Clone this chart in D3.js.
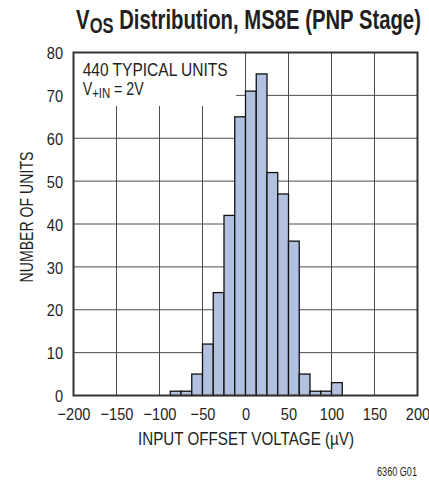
<!DOCTYPE html>
<html><head><meta charset="utf-8">
<script src="https://cdn.jsdelivr.net/npm/d3@7"></script>
<style>
body{margin:0;background:#fff;}
text{font-family:"Liberation Sans",Arial,sans-serif;fill:#231f20;}
</style></head>
<body><svg id="c" width="429" height="480"></svg>
<script>
// Data
const binStarts = [-87.5,-75,-62.5,-50,-37.5,-25,-12.5,0,12.5,25,37.5,50,62.5,75,87.5,100];
const binWidth = 12.5;
const counts = [1,1,5,12,24,42,65,71,75,52,47,36,5,1,1,3];
const xTicks = [-200,-150,-100,-50,0,50,100,150,200];
const yTicks = [0,10,20,30,40,50,60,70,80];

const svg = d3.select("#c");
const m = {l:73.5, r:417.5, t:52.5, b:395.5};
const x = d3.scaleLinear().domain([-200,200]).range([m.l, m.r]);
const y = d3.scaleLinear().domain([0,80]).range([m.b, m.t]);
const SX = 0.86;

// grid
const g = svg.append("g");
g.selectAll("line.v").data(xTicks).join("line")
  .attr("x1",d=>x(d)).attr("x2",d=>x(d)).attr("y1",m.t).attr("y2",m.b)
  .attr("stroke","#4d4d4d").attr("stroke-width",1);
g.selectAll("line.h").data(yTicks).join("line")
  .attr("x1",m.l).attr("x2",m.r).attr("y1",d=>y(d)).attr("y2",d=>y(d))
  .attr("stroke","#4d4d4d").attr("stroke-width",1);

// annotation backdrop
svg.append("rect").attr("x",m.l).attr("y",m.t).attr("width",236-m.l).attr("height",106-m.t).attr("fill","#fff");

// bars
svg.append("g").selectAll("rect").data(binStarts).join("rect")
  .attr("x",(d)=>x(d)).attr("width",(d)=>x(d+binWidth)-x(d))
  .attr("y",(d,i)=>y(counts[i])).attr("height",(d,i)=>y(0)-y(counts[i]))
  .attr("fill","#b3c1e0").attr("stroke","#111").attr("stroke-width",1.3);

// frame
svg.append("rect").attr("x",m.l).attr("y",m.t).attr("width",m.r-m.l).attr("height",m.b-m.t)
  .attr("fill","none").attr("stroke","#333").attr("stroke-width",2);

// axes (labels only)
const xa = svg.append("g").attr("transform",`translate(0,${m.b})`)
  .call(d3.axisBottom(x).tickValues(xTicks).tickSize(0).tickPadding(0).tickFormat(d=>d<0?"\u2212"+Math.abs(d):d));
xa.select(".domain").remove();
xa.selectAll("text").attr("dy",null).attr("y",24.5).attr("font-size",17).attr("fill","#231f20")
  .attr("transform",`scale(${SX},1)`)
  .style("font-family",'"Liberation Sans",Arial,sans-serif');
const ya = svg.append("g").attr("transform",`translate(${m.l},0)`)
  .call(d3.axisLeft(y).tickValues(yTicks).tickSize(0).tickPadding(0));
ya.select(".domain").remove();
ya.selectAll("text").attr("x",-10.5/SX).attr("dy","0.36em").attr("font-size",17).attr("fill","#231f20")
  .attr("transform",`scale(${SX},1)`)
  .style("font-family",'"Liberation Sans",Arial,sans-serif');

// condensed text helper
function label(px, py, size, anchor, target, build, rot, weight){
  const gg = svg.append("g");
  const t = gg.append("text").attr("font-size",size).attr("text-anchor",anchor);
  if(weight) t.attr("font-weight",weight);
  build(t);
  const w = t.node().getComputedTextLength();
  const sx = target / w;
  gg.attr("transform",`translate(${px},${py})${rot?` rotate(${rot})`:""} scale(${sx},1)`);
  return t;
}

// title
label(248.5, 28.7, 27, "middle", 345, t=>{
  t.append("tspan").text("V");
  t.append("tspan").attr("font-size",22).attr("dy",4.4).text("OS");
  t.append("tspan").attr("dy",-4.4).text(" Distribution, MS8E (PNP Stage)");
}, 0, "bold");

// annotation
label(82.7, 76, 17.5, "start", 145, t=>t.text("440 TYPICAL UNITS"));
label(82.7, 95, 17.5, "start", 61, t=>{
  t.append("tspan").text("V");
  t.append("tspan").attr("font-size",14).attr("dy",3).text("+IN");
  t.append("tspan").attr("dy",-3).text(" = 2V");
});

// axis titles
label(246, 445, 17.5, "middle", 216, t=>t.text("INPUT OFFSET VOLTAGE (\u00B5V)"));
label(33, 217, 17.5, "middle", 131, t=>t.text("NUMBER OF UNITS"), -90);
label(417, 475.5, 12, "end", 40, t=>t.text("6360 G01"));
</script></body></html>
